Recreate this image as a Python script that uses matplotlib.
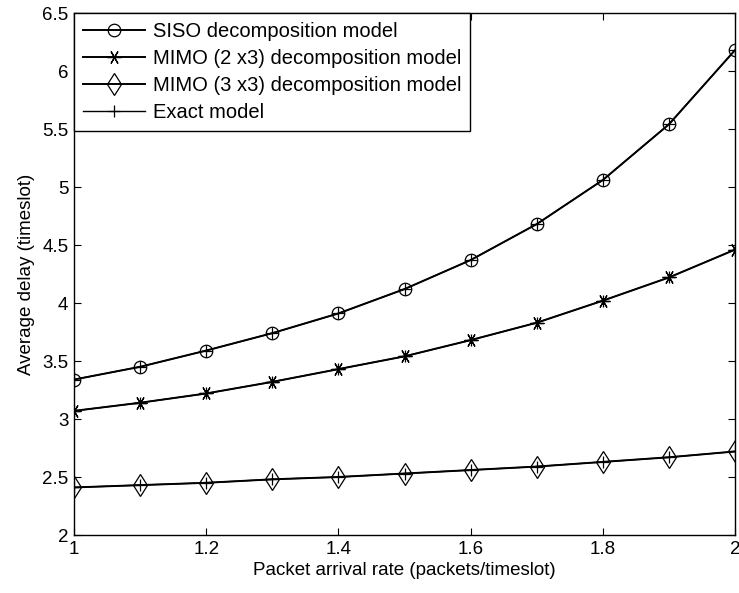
import matplotlib.pyplot as plt
import numpy as np

plt.rcParams['font.family'] = ['Liberation Sans', 'DejaVu Sans']

# packet arrival rate
rate = [1.0, 1.1, 1.2, 1.3, 1.4, 1.5, 1.6, 1.7, 1.8, 1.9, 2.0]
# average delay
siso = [3.34, 3.45, 3.59, 3.74, 3.91, 4.12, 4.37, 4.68, 5.06, 5.54, 6.18]
mimo23 = [3.07, 3.14, 3.22, 3.32, 3.43, 3.54, 3.68, 3.83, 4.02, 4.22, 4.46]
mimo33 = [2.41, 2.43, 2.45, 2.48, 2.50, 2.53, 2.56, 2.59, 2.63, 2.67, 2.72]
# exact model overlaps the decomposition curves
exact_curves = [siso, mimo23, mimo33]

fig = plt.figure(figsize=(7.39, 5.93), dpi=100)
ax = fig.add_axes([74 / 739, 1 - 535 / 593, 661 / 739, 522 / 593])

kw = dict(color='black', lw=1.4, mfc='none', mec='black', mew=0.9)
ax.plot(rate, siso, marker='o', ms=9, label='SISO decomposition model', **kw)
ax.plot(rate, mimo23, marker=(6, 2, 30), ms=10,
        label='MIMO (2 x3) decomposition model', **kw)
ax.plot(rate, mimo33, marker='d', ms=11.5,
        label='MIMO (3 x3) decomposition model', **kw)
for i, c in enumerate(exact_curves):
    ax.plot(rate, c, marker='+', color='black', lw=1.0, ms=9, mew=0.9,
            label='Exact model' if i == 0 else None)

ax.set_xlim(1, 2)
ax.set_ylim(2, 6.5)
ax.set_xticks([1, 1.2, 1.4, 1.6, 1.8, 2])
ax.set_xticklabels(['1', '1.2', '1.4', '1.6', '1.8', '2'])
ax.set_yticks(np.arange(2, 6.51, 0.5))
ax.set_yticklabels(['2', '2.5', '3', '3.5', '4', '4.5', '5', '5.5', '6', '6.5'])
ax.tick_params(direction='in', top=True, right=True, labelsize=13.5, length=5,
               pad=4)
for s in ax.spines.values():
    s.set_linewidth(1.0)

ax.set_xlabel('Packet arrival rate (packets/timeslot)', fontsize=13.5,
              labelpad=3)
ax.set_ylabel('Average delay (timeslot)', fontsize=13.5, labelpad=5)

leg = ax.legend(loc='upper left', fontsize=14.5, fancybox=False, framealpha=1,
                edgecolor='black', borderaxespad=0, handlelength=3.1,
                handletextpad=0.35, labelspacing=0.4, borderpad=0.45)
leg.get_frame().set_linewidth(1.0)

fig.savefig('out.png', dpi=100)
